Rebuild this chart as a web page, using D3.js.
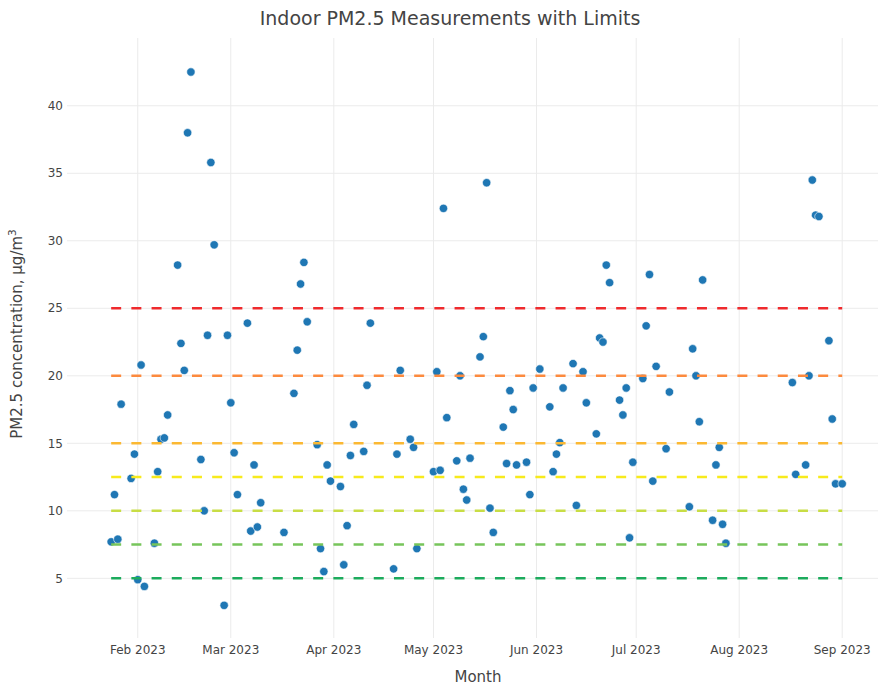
<!DOCTYPE html>
<html><head><meta charset="utf-8">
<script src="https://cdn.jsdelivr.net/npm/d3@7"></script>
<style>html,body{margin:0;padding:0;background:#fff;}svg{display:block;}</style>
</head><body>
<script>
const dates = ["2023-01-24","2023-01-25","2023-01-26","2023-01-27","2023-01-30","2023-01-31","2023-02-01","2023-02-02","2023-02-03",
"2023-02-06","2023-02-07","2023-02-08","2023-02-09","2023-02-10","2023-02-13","2023-02-14","2023-02-15","2023-02-16","2023-02-17",
"2023-02-20","2023-02-21","2023-02-22","2023-02-23","2023-02-24","2023-02-27","2023-02-28","2023-03-01","2023-03-02","2023-03-03",
"2023-03-06","2023-03-07","2023-03-08","2023-03-09","2023-03-10","2023-03-17","2023-03-20","2023-03-21","2023-03-22","2023-03-23","2023-03-24",
"2023-03-27","2023-03-28","2023-03-29","2023-03-30","2023-03-31","2023-04-03","2023-04-04","2023-04-05","2023-04-06","2023-04-07",
"2023-04-10","2023-04-11","2023-04-12","2023-04-19","2023-04-20","2023-04-21","2023-04-24","2023-04-25","2023-04-26",
"2023-05-01","2023-05-02","2023-05-03","2023-05-04","2023-05-05","2023-05-08","2023-05-09","2023-05-10","2023-05-11","2023-05-12",
"2023-05-15","2023-05-16","2023-05-17","2023-05-18","2023-05-19","2023-05-22","2023-05-23","2023-05-24","2023-05-25","2023-05-26",
"2023-05-29","2023-05-30","2023-05-31","2023-06-02","2023-06-05","2023-06-06","2023-06-07","2023-06-08","2023-06-09",
"2023-06-12","2023-06-13","2023-06-15","2023-06-16","2023-06-19","2023-06-20","2023-06-21","2023-06-22","2023-06-23",
"2023-06-26","2023-06-27","2023-06-28","2023-06-29","2023-06-30","2023-07-03","2023-07-04","2023-07-05","2023-07-06","2023-07-07",
"2023-07-10","2023-07-11","2023-07-17","2023-07-18","2023-07-19","2023-07-20","2023-07-21","2023-07-24","2023-07-25","2023-07-26","2023-07-27","2023-07-28",
"2023-08-17","2023-08-18","2023-08-21","2023-08-22","2023-08-23","2023-08-24","2023-08-25","2023-08-28","2023-08-29","2023-08-30","2023-09-01"];
const pm25 = [7.7,11.2,7.9,17.9,12.4,14.2,4.9,20.8,4.4,
7.6,12.9,15.3,15.4,17.1,28.2,22.4,20.4,38.0,42.5,
13.8,10.0,23.0,35.8,29.7,3.0,23.0,18.0,14.3,11.2,
23.9,8.5,13.4,8.8,10.6,8.4,18.7,21.9,26.8,28.4,24.0,
14.9,7.2,5.5,13.4,12.2,11.8,6.0,8.9,14.1,16.4,
14.4,19.3,23.9,5.7,14.2,20.4,15.3,14.7,7.2,
12.9,20.3,13.0,32.4,16.9,13.7,20.0,11.6,10.8,13.9,
21.4,22.9,34.3,10.2,8.4,16.2,13.5,18.9,17.5,13.4,
13.6,11.2,19.1,20.5,17.7,12.9,14.2,15.05,19.1,
20.9,10.4,20.3,18.0,15.7,22.8,22.5,28.2,26.9,
18.2,17.1,19.1,8.0,13.6,19.8,23.7,27.5,12.2,20.7,
14.6,18.8,10.3,22.0,20.0,16.6,27.1,9.3,13.4,14.7,9.0,7.6,
19.5,12.7,13.4,20.0,34.5,31.9,31.8,22.6,16.8,12.0,12.0];
const limitValues = [5, 7.5, 10, 12.5, 15, 20, 25];
const limitColors = ["#1cab5c","#77c55b","#c8dd45","#f7ea1c","#fbb832","#fc8a3e","#ef2a2d"];
const yTicks = [5,10,15,20,25,30,35,40];
const titleText = "Indoor PM2.5 Measurements with Limits";
const xTitle = "Month";
const yTitle = "PM2.5 concentration, μg/m";

const W = 878, H = 687;
const margin = {left: 67, top: 38, right: 889, bottom: 638};
const parse = d3.timeParse("%Y-%m-%d");
const data = dates.map((d,i) => ({date: parse(d), value: pm25[i]}));

const x = d3.scaleTime()
  .domain([new Date(2023,0,10,17), new Date(2023,8,15,2)])
  .range([margin.left, margin.right]);
const y = d3.scaleLinear().domain([0.58, 45.02]).range([margin.bottom, margin.top]);

const svg = d3.select("body").append("svg").attr("width", W).attr("height", H)
  .style("font-family", "'DejaVu Sans', Verdana, sans-serif");

// grid
const xt = x.ticks(d3.timeMonth.every(1)).filter(d => d >= new Date(2023,1,1) && d <= new Date(2023,8,1));
svg.append("g").selectAll("line").data(xt).join("line")
  .attr("x1", d => x(d)).attr("x2", d => x(d)).attr("y1", margin.top).attr("y2", margin.bottom)
  .attr("stroke", "#ebebeb").attr("stroke-width", 1);
svg.append("g").selectAll("line").data(yTicks).join("line")
  .attr("x1", margin.left).attr("x2", margin.right).attr("y1", d => y(d)).attr("y2", d => y(d))
  .attr("stroke", "#ebebeb").attr("stroke-width", 1);

// axes labels
const fmt = d3.timeFormat("%b %Y");
svg.append("g").selectAll("text").data(xt).join("text")
  .attr("x", d => x(d)).attr("y", 654).attr("text-anchor", "middle")
  .attr("font-size", 12).attr("fill", "#444").text(d => fmt(d));
svg.append("g").selectAll("text").data(yTicks).join("text")
  .attr("x", 63).attr("y", d => y(d)).attr("dy", "0.35em").attr("text-anchor", "end")
  .attr("font-size", 12).attr("fill", "#444").text(d => d);

// points
const [xMin, xMax] = d3.extent(data, d => d.date);
svg.append("g").selectAll("circle").data(data).join("circle")
  .attr("cx", d => x(d.date)).attr("cy", d => y(d.value)).attr("r", 4.2)
  .attr("fill", "#1f77b4").attr("stroke", "#fff").attr("stroke-width", 0.6);

// limit lines
svg.append("g").selectAll("line").data(limitValues).join("line")
  .attr("x1", x(xMin)).attr("x2", x(xMax)).attr("y1", d => y(d)).attr("y2", d => y(d))
  .attr("stroke", (d,i) => limitColors[i]).attr("stroke-width", 2.6)
  .attr("stroke-dasharray", "10,10.2");

// titles
svg.append("text").attr("x", 450).attr("y", 25).attr("text-anchor", "middle")
  .attr("font-size", 19).attr("fill", "#444").text(titleText);
svg.append("text").attr("x", (margin.left + margin.right) / 2).attr("y", 682).attr("text-anchor", "middle")
  .attr("font-size", 15).attr("fill", "#444").text(xTitle);
const yt = svg.append("text").attr("transform", `translate(22,${(margin.top + margin.bottom) / 2 - 4}) rotate(-90)`)
  .attr("text-anchor", "middle").attr("font-size", 15).attr("fill", "#444");
yt.append("tspan").text(yTitle);
yt.append("tspan").attr("font-size", 10.5).attr("dy", "-0.6em").text("3");
</script>
</body></html>
